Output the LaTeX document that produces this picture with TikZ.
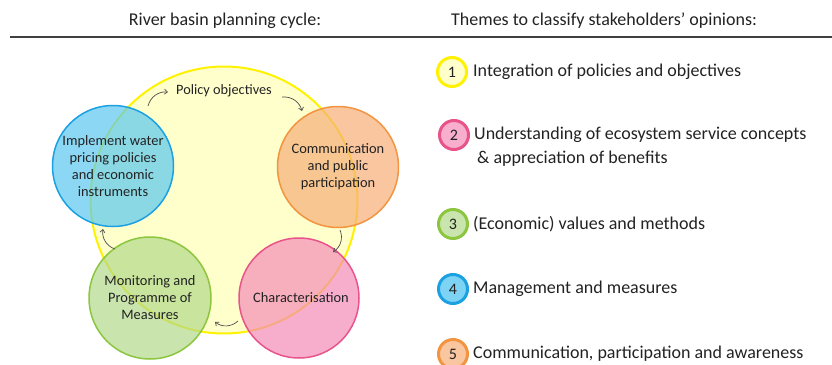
\documentclass[tikz,border=0pt]{standalone}
\usepackage{fontspec}
\setmainfont{Carlito}
\usetikzlibrary{arrows.meta}
\definecolor{yfill}{HTML}{FFFFCC}
\definecolor{ystroke}{HTML}{FFF200}
\definecolor{bfill}{HTML}{5BC8F0}
\definecolor{bstroke}{HTML}{1BA1E2}
\definecolor{ofill}{HTML}{F6AE78}
\definecolor{ostroke}{HTML}{F39440}
\definecolor{gfill}{HTML}{B2D98A}
\definecolor{gstroke}{HTML}{8CC63F}
\definecolor{pfill}{HTML}{F48CB8}
\definecolor{pstroke}{HTML}{E8538A}
\definecolor{txt}{HTML}{222222}
\begin{document}
\begin{tikzpicture}[x=1pt,y=1pt,
  title/.style={font=\fontsize{18}{21}\selectfont, text=txt, inner sep=0pt},
  rule/.style={draw=black!75, line width=1.3pt},
  stage/.style={circle, draw, line width=1.5pt, fill opacity=0.7, text opacity=1,
     align=center, text=txt, font=\fontsize{14.4}{17}\selectfont, inner sep=0pt},
  badge/.style={circle, draw, line width=3pt, minimum size=29pt, inner sep=0pt,
     text=txt, font=\fontsize{16}{18}\selectfont},
  theme/.style={anchor=west, text=txt, font=\fontsize{18}{21}\selectfont, inner sep=0pt},
  arr/.style={draw=black!70, line width=0.7pt, -{Straight Barb[length=3pt,width=5pt]}, bend left=40}
]
\useasboundingbox (0,0) rectangle (832,-364);
% headers
\node[title] (h1) at (225,-21) {River basin planning cycle:};
\node[title, anchor=west] (h2) at (451,-21) {Themes to classify stakeholders’ opinions:};
\coordinate (r1) at (10,-37);
\coordinate (r2) at (832,-37);
\draw[rule] (r1) -- (r2);
% big circle
\node[circle, draw=ystroke, fill=yfill, line width=2pt, minimum size=267pt] (yc) at (224,-200) {};
\node[stage, draw=bstroke, fill=bfill, minimum size=121pt] (blue) at (113,-166)
  {Implement water\\pricing policies\\and economic\\instruments};
\node[stage, draw=ostroke, fill=ofill, minimum size=121pt] (orange) at (338,-167)
  {Communication\\and public\\participation};
\node[stage, draw=gstroke, fill=gfill, minimum size=122pt] (green) at (150,-298)
  {Monitoring and\\Programme of\\Measures};
\node[stage, draw=pstroke, fill=pfill, minimum size=120pt] (pink) at (299,-298)
  {\hspace{4pt}Characterisation};
\node[text=txt, font=\fontsize{14.3}{17}\selectfont, inner sep=0pt] (po) at (224,-91) {Policy objectives};
% arrows
\coordinate (a1s) at (148,-106); \coordinate (a1e) at (168,-92);
\coordinate (a2s) at (282,-97);  \coordinate (a2e) at (302,-111);
\coordinate (a3s) at (340,-230); \coordinate (a3e) at (333,-252);
\coordinate (a4s) at (238,-321); \coordinate (a4e) at (215,-322);
\coordinate (a5s) at (115,-249); \coordinate (a5e) at (103,-229);
\draw[arr] (a1s) to (a1e);
\draw[arr] (a2s) to (a2e);
\draw[arr] (a3s) to (a3e);
\draw[arr] (a4s) to (a4e);
\draw[arr] (a5s) to (a5e);
% themes
\node[badge, draw=ystroke, fill=yfill] (n1) at (452,-72) {1};
\node[theme] (t1) at (473,-72) {Integration of policies and objectives};
\node[badge, draw=pstroke, fill=pfill!70] (n2) at (454,-135) {2};
\node[theme] (t2) at (474,-135) {Understanding of ecosystem service concepts};
\node[theme] (t2b) at (477,-159) {\& appreciation of benefits};
\node[badge, draw=gstroke, fill=gfill!70] (n3) at (453,-224) {3};
\node[theme] (t3) at (473,-224) {(Economic) values and methods};
\node[badge, draw=bstroke, fill=bfill!80] (n4) at (453,-289) {4};
\node[theme] (t4) at (473,-289) {Management and measures};
\node[badge, draw=ostroke, fill=ofill!70] (n5) at (453,-354) {5};
\node[theme] (t5) at (473,-354) {Communication, participation and awareness};
\end{tikzpicture}
\end{document}
